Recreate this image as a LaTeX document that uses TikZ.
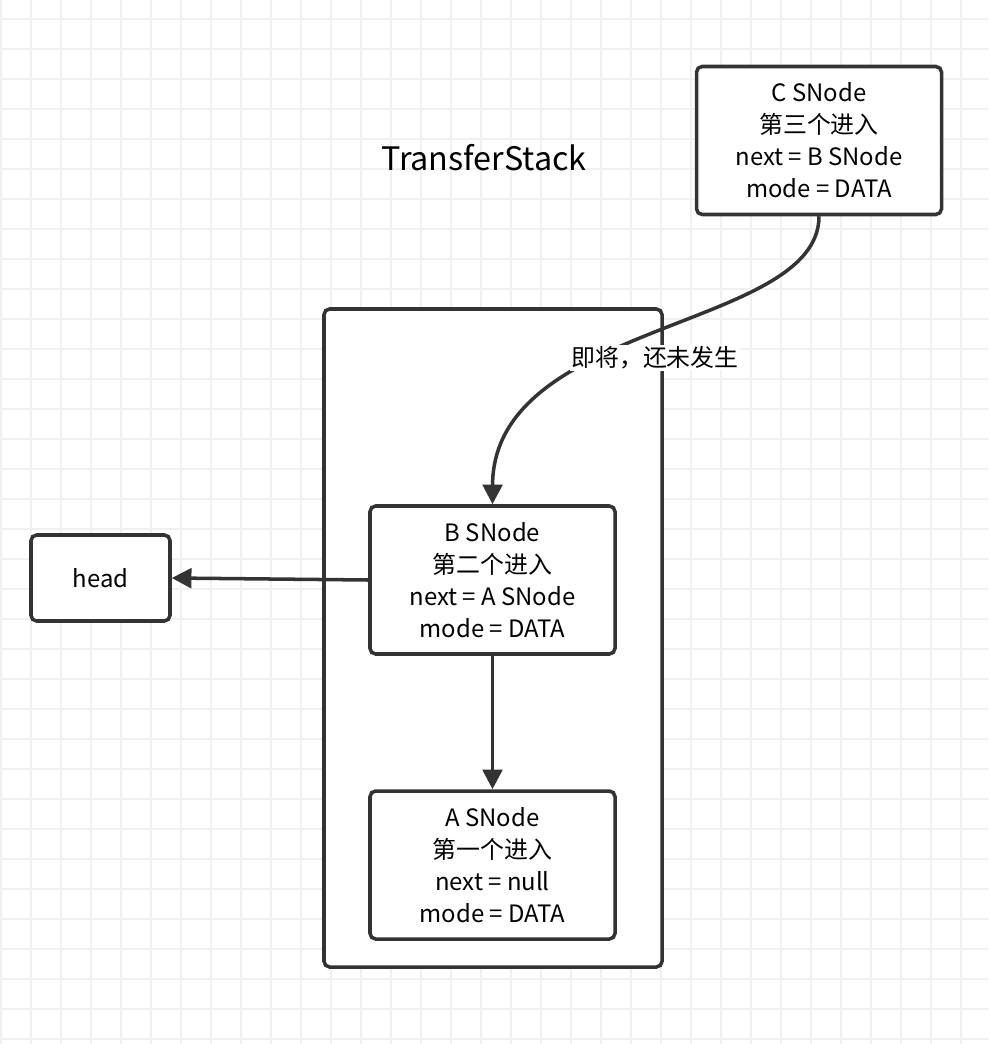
\documentclass[tikz,border=0pt]{standalone}
\usepackage{fontspec}
\setmainfont{Noto Sans CJK SC}
\usetikzlibrary{arrows.meta}
\begin{document}
\begin{tikzpicture}[x=0.025cm,y=-0.025cm]
	\tikzstyle{box}=[draw=black!80,line width=2.5pt,rounded corners=4pt,fill=white]
	\tikzstyle{snode}=[box,minimum width=245*0.025cm,minimum height=148*0.025cm,align=center,font=\fontsize{17}{22.7}\selectfont]
	\tikzstyle{link}=[draw=black!80,line width=2.5pt,-{Triangle[length=14pt,width=14pt]}]
	\useasboundingbox (0,0) rectangle (988,1044);
	\foreach \i in {0,...,32} \draw[black!6,line width=1.2pt] (1+30*\i,0) -- (1+30*\i,1044);
	\foreach \i in {0,...,34} \draw[black!6,line width=1.2pt] (0,19+30*\i) -- (988,19+30*\i);
	\draw[box] (324,309) rectangle (662,967);
	\node[font=\fontsize{23}{28}\selectfont] (title) at (484,158) {TransferStack};
	\node[snode] (c) at (819,140.5) {C SNode\\第三个进入\\next = B SNode\\mode = DATA};
	\node[snode] (b) at (492.5,580) {B SNode\\第二个进入\\next = A SNode\\mode = DATA};
	\node[snode] (a) at (492.5,865) {A SNode\\第一个进入\\next = null\\mode = DATA};
	\node[box,minimum width=139*0.025cm,minimum height=86*0.025cm,font=\fontsize{17}{22.7}\selectfont] (head) at (100.5,578) {head};
	\draw[link] (c.south) .. controls (819,330) and (493,320) .. (b.north);
	\node[fill=white,inner sep=1pt,font=\fontsize{17}{22.7}\selectfont] (note) at (655,358) {即将，还未发生};
	\draw[link] (b.west) -- (head.east);
	\draw[link] (b.south) -- (a.north);
\end{tikzpicture}
\end{document}
